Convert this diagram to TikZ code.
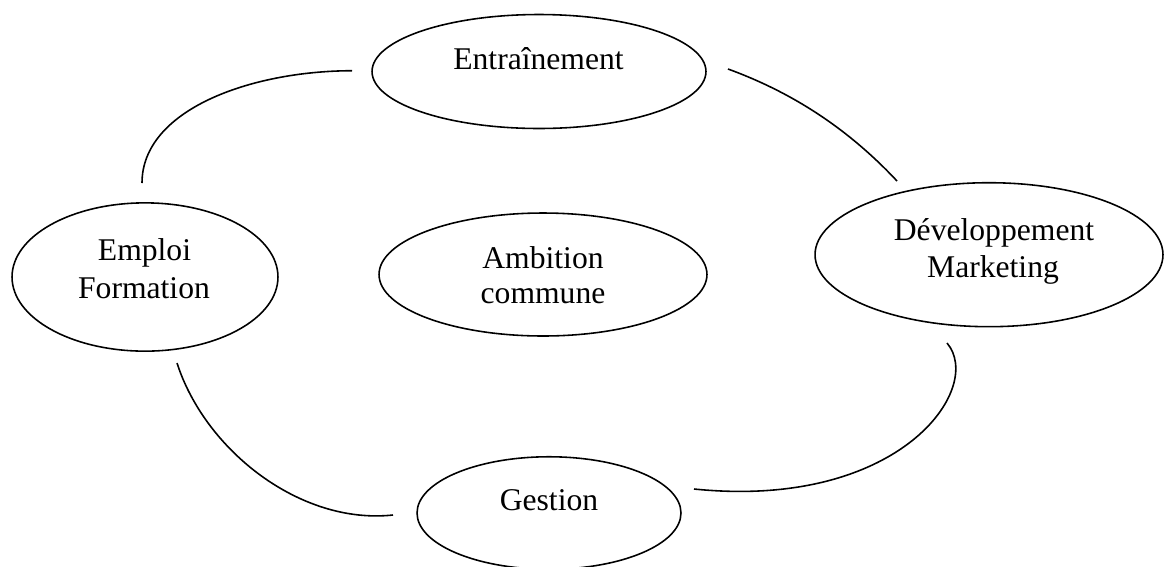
\documentclass[tikz,border=0pt]{standalone}
\usepackage{fontspec}
\setmainfont{Liberation Serif}
\usetikzlibrary{shapes.geometric}
\begin{document}
\begin{tikzpicture}[x=0.02cm,y=-0.02cm,
  bubble/.style={draw, ellipse, line width=0.9pt, inner sep=0pt},
  txt/.style={anchor=base, inner sep=0pt, font=\fontsize{18}{21.6}\selectfont},
  link/.style={line width=0.9pt}]
\useasboundingbox (0,0) rectangle (1165,566);

\node[bubble, minimum width=6.68cm, minimum height=2.28cm] (entr) at (539,71.5) {};
\node[txt] (entrT) at (538.5,69) {Entraînement};

\node[bubble, minimum width=5.32cm, minimum height=2.966cm] (empl) at (145,277) {};
\node[txt] (emplT1) at (144.5,260.7) {Emploi};
\node[txt] (emplT2) at (144,298) {Formation};

\node[bubble, minimum width=6.56cm, minimum height=2.46cm] (amb) at (543,274.5) {};
\node[txt] (ambT1) at (543,268) {Ambition};
\node[txt] (ambT2) at (543,303) {commune};

\node[bubble, minimum width=6.96cm, minimum height=2.88cm] (dev) at (989,254.7) {};
\node[txt] (devT1) at (994,240.7) {Développement};
\node[txt] (devT2) at (993,277) {Marketing};

\node[bubble, minimum width=5.28cm, minimum height=2.25cm] (gest) at (549,513) {};
\node[txt] (gestT) at (549,510.7) {Gestion};

\coordinate (a1) at (142,183);
\coordinate (a2) at (352,70.7);
\draw[link] (a1) .. controls (142,110) and (250,71) .. (a2);

\coordinate (b1) at (728,69);
\coordinate (b2) at (897,181);
\draw[link] (b1) .. controls (780,88) and (840,120) .. (b2);

\coordinate (c1) at (947,343);
\coordinate (c2) at (694,489);
\draw[link] (c1) .. controls (985,388) and (900,510) .. (c2);

\coordinate (d1) at (177,363);
\coordinate (d2) at (393,515);
\draw[link] (d1) .. controls (205,450) and (300,525) .. (d2);
\end{tikzpicture}
\end{document}
